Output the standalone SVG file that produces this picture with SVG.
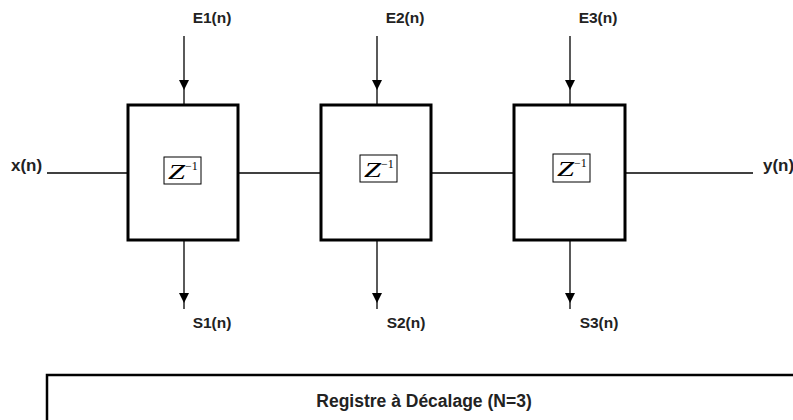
<svg xmlns="http://www.w3.org/2000/svg" width="793" height="420" viewBox="0 0 793 420">
<style>
.blk{fill:#fff;stroke:#000;stroke-width:3}
.zb{fill:#fff;stroke:#000;stroke-width:1}
.ln{stroke:#000;stroke-width:1.3;fill:none}
.lbl{font-family:"Liberation Sans",Arial,sans-serif;font-weight:bold;font-size:15.5px;fill:#222}
.io{font-family:"Liberation Sans",Arial,sans-serif;font-weight:bold;font-size:17px;fill:#222}
.z{font-family:"Liberation Serif","Times New Roman",serif;font-size:20px;font-style:italic;fill:#000}
.sup{font-family:"Liberation Serif","Times New Roman",serif;font-size:12px;fill:#000}
.cap{font-family:"Liberation Sans",Arial,sans-serif;font-weight:bold;font-size:17.5px;fill:#222}
</style>
<defs>
<marker id="ah" viewBox="0 0 10 10" refX="10" refY="5" markerWidth="10" markerHeight="10" markerUnits="userSpaceOnUse" orient="auto">
<path d="M0,0 L10,5 L0,10 z" fill="#000"/>
</marker>
</defs>
<rect width="793" height="420" fill="#fff"/>
<g id="connectors">
<line class="ln" x1="47" y1="173" x2="128" y2="173"/>
<line class="ln" x1="238" y1="173" x2="321" y2="173"/>
<line class="ln" x1="431" y1="173" x2="514" y2="173"/>
<line class="ln" x1="625" y1="173" x2="753" y2="173"/>
<path class="ln" d="M184,36 L184,90 L184,105" marker-mid="url(#ah)"/>
<path class="ln" d="M377,36 L377,90 L377,105" marker-mid="url(#ah)"/>
<path class="ln" d="M570,36 L570,90 L570,105" marker-mid="url(#ah)"/>
<path class="ln" d="M184,240 L184,303 L184,309" marker-mid="url(#ah)"/>
<path class="ln" d="M377,240 L377,303 L377,309" marker-mid="url(#ah)"/>
<path class="ln" d="M570,240 L570,303 L570,309" marker-mid="url(#ah)"/>
</g>
<g id="block1">
<rect class="blk" x="128" y="105" width="110" height="135"/>
<rect class="zb" x="164" y="157" width="37" height="27"/>
<text class="z" x="168" y="179" textLength="17" lengthAdjust="spacingAndGlyphs">Z</text>
<text class="sup" x="185" y="170">−1</text>
</g>
<g id="block2">
<rect class="blk" x="321" y="105" width="110" height="135"/>
<rect class="zb" x="360" y="155" width="37" height="27"/>
<text class="z" x="364" y="177" textLength="17" lengthAdjust="spacingAndGlyphs">Z</text>
<text class="sup" x="381" y="168">−1</text>
</g>
<g id="block3">
<rect class="blk" x="514" y="105" width="111" height="135"/>
<rect class="zb" x="553" y="154" width="37" height="28"/>
<text class="z" x="557" y="176" textLength="17" lengthAdjust="spacingAndGlyphs">Z</text>
<text class="sup" x="574" y="167">−1</text>
</g>
<g id="labels">
<text class="lbl" x="212" y="23" text-anchor="middle">E1(n)</text>
<text class="lbl" x="405" y="23" text-anchor="middle">E2(n)</text>
<text class="lbl" x="598" y="23" text-anchor="middle">E3(n)</text>
<text class="lbl" x="212" y="328" text-anchor="middle">S1(n)</text>
<text class="lbl" x="406" y="328" text-anchor="middle">S2(n)</text>
<text class="lbl" x="599" y="328" text-anchor="middle">S3(n)</text>
<text class="io" x="11" y="171">x(n)</text>
<text class="io" x="763" y="171">y(n)</text>
</g>
<g id="caption">
<rect x="47" y="375" width="800" height="100" fill="#fff" stroke="#000" stroke-width="2.5"/>
<text class="cap" x="424" y="407" text-anchor="middle">Registre à Décalage (N=3)</text>
</g>
</svg>
